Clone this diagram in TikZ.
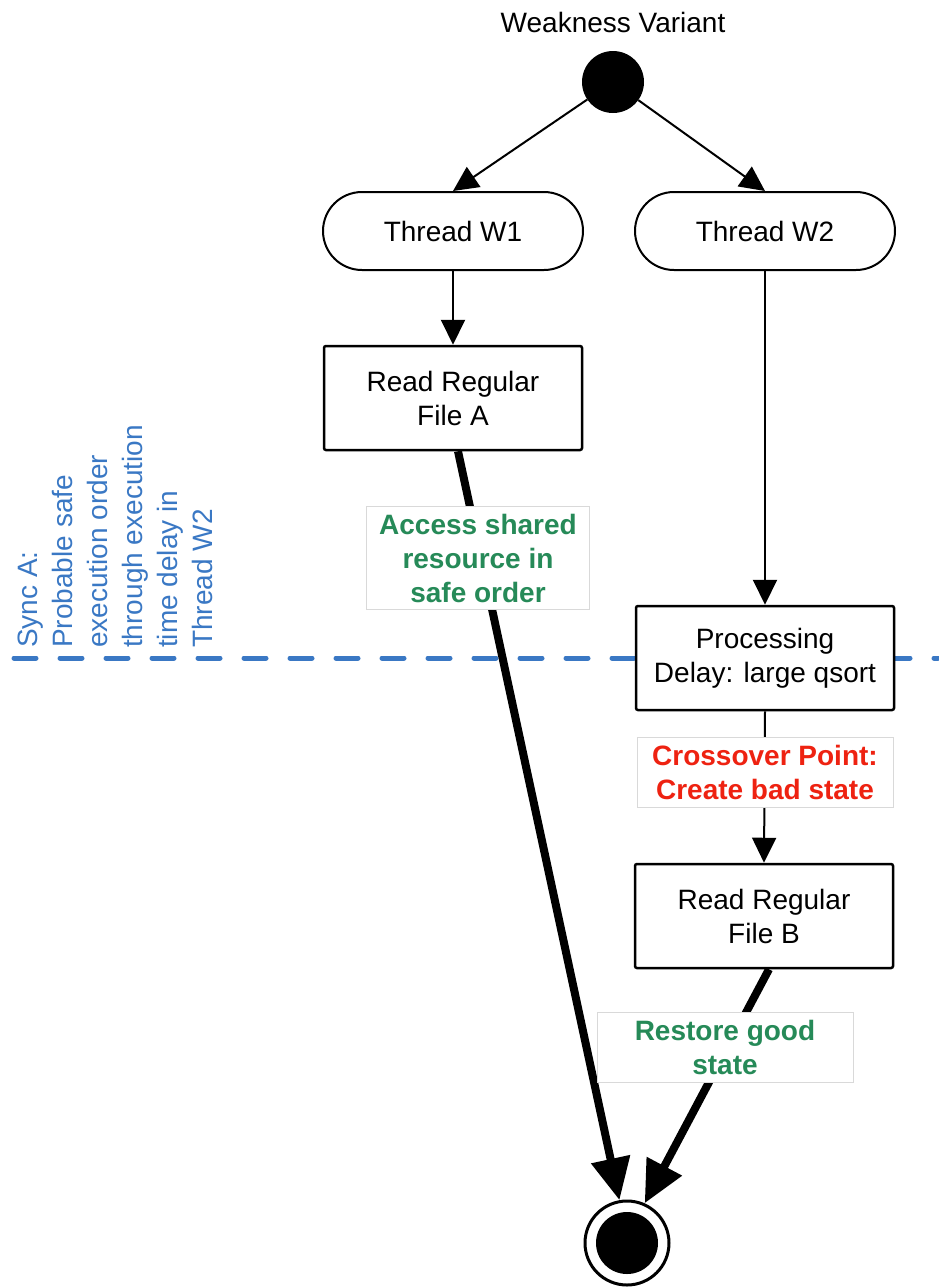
\documentclass[tikz,border=0pt]{standalone}
\usepackage{fontspec}
\setmainfont{Liberation Sans}
\usetikzlibrary{arrows.meta,calc}
\definecolor{lblgreen}{RGB}{38,138,88}
\definecolor{lblred}{RGB}{238,34,17}
\definecolor{syncblue}{RGB}{58,120,196}
\begin{document}
\begin{tikzpicture}[x=1pt,y=-1pt,
  every node/.style={font=\fontsize{28}{34}\selectfont},
  stepbox/.style={draw, line width=2.5pt, fill=white, minimum width=258pt, minimum height=104pt, align=center, rounded corners=2pt},
  threadbox/.style={draw, line width=2pt, fill=white, minimum width=260pt, minimum height=78pt, rounded corners=39pt},
  lbl/.style={draw=black!15, line width=0.8pt, fill=white, align=center, inner sep=0pt, font=\fontsize{28}{34}\selectfont\bfseries},
  conn/.style={line width=2pt, -{Triangle[length=25pt,width=24pt]}},
  heavy/.style={line width=8pt, -{Triangle[length=42pt,width=38pt]}}
]
\useasboundingbox (0,0) rectangle (938,1288);
% separator
\draw[syncblue, line width=5pt, dash pattern=on 22pt off 24pt, line cap=round] (14,658) -- (938,658);
\node[rotate=90, anchor=north west, inner sep=0pt, align=left, text=syncblue, font=\fontsize{28}{35}\selectfont] (sync) at (18,648)
  {Sync A:\\Probable safe\\execution order\\through execution\\time delay in\\Thread W2};

\node (title) at (613,22) {Weakness Variant};
\node[circle, fill=black, minimum size=62pt, inner sep=0pt] (start) at (613,82) {};
\node[threadbox] (w1) at (453,231) {Thread W1};
\node[threadbox] (w2) at (765,231) {Thread W2};
\node[stepbox] (fa) at (453,398) {Read Regular\\File A};
\node[stepbox] (proc) at (765,658) {Processing\\Delay: large qsort};
\node[stepbox] (fb) at (764,916) {Read Regular\\File B};
\node[circle, draw, line width=3pt, fill=white, minimum size=84pt, inner sep=0pt] (fin) at (627,1243) {};
\node[circle, fill=black, minimum size=62pt, inner sep=0pt] (finin) at (fin) {};

\draw[conn] (start) -- (w1.north);
\draw[conn] (start) -- (w2.north);
\draw[conn] (w1.south) -- (fa.north);
\draw[conn] (w2.south) -- (proc.north);
\draw[conn] (proc.south) -- (fb.north);
\draw[heavy] ($(fa.south)+(5,0)$) -- (fin.100);
\draw[heavy] ($(fb.south)+(5,0)$) -- (fin.66);

\node[lbl, text=lblgreen, minimum width=223pt, minimum height=103pt] (l1) at (478,558) {Access shared\\resource in\\safe order};
\node[lbl, text=lblred, minimum width=256pt, minimum height=70pt] (l2) at (765,772) {Crossover Point:\\Create bad state};
\node[lbl, text=lblgreen, minimum width=256pt, minimum height=70pt] (l3) at (725,1047) {Restore good\\state};
\end{tikzpicture}
\end{document}
